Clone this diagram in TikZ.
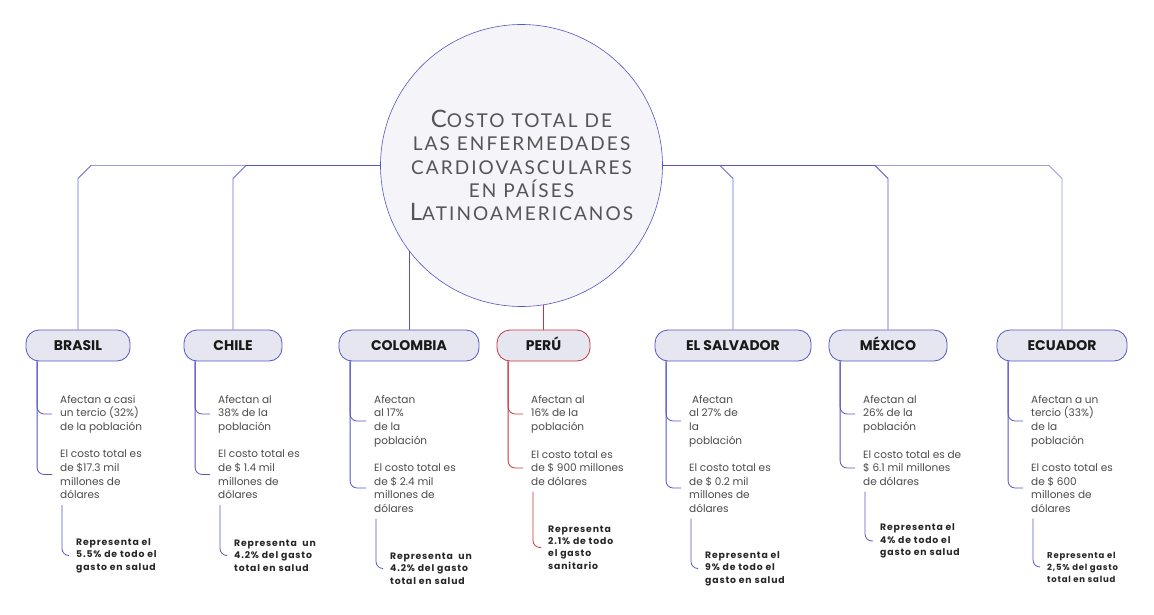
\documentclass[tikz,border=0pt]{standalone}
\usepackage{fontspec}
\setmainfont{Poppins}
\newfontfamily\titlefont[LetterSpace=11]{Lato}
\newfontfamily\notefont[LetterSpace=9]{Poppins}
\usetikzlibrary{calc}
\definecolor{bl}{HTML}{5656C6}
\definecolor{lbl}{HTML}{9A9EE0}
\definecolor{mbl}{HTML}{6A6CD0}
\definecolor{rd}{HTML}{C8373A}
\definecolor{boxfill}{HTML}{E6E6F0}
\definecolor{circfill}{HTML}{F4F4F9}
\definecolor{txt}{HTML}{4A4A4A}
\definecolor{ttl}{HTML}{555555}
\newcommand\tbig[1]{{\fontsize{24}{24}\selectfont #1}}
\begin{document}
\begin{tikzpicture}[x=1pt,y=-1pt,
 country/.style={draw=bl, fill=boxfill, rounded corners=13, minimum height=31, inner sep=0, line width=0.8, text height=10, text depth=0, font=\fontsize{14}{14}\selectfont\bfseries, text=black!90},
 body/.style={anchor=west, align=left, inner sep=0, font=\fontsize{10.5}{13.6}\selectfont, text=txt},
 note/.style={anchor=west, align=left, inner sep=0, font=\notefont\fontsize{9.3}{12.4}\selectfont\bfseries, text=black!85},
 link/.style={draw=mbl, line width=0.8},
 sub/.style={draw=bl, line width=0.8, rounded corners=7},
]
\useasboundingbox (0,0) rectangle (1154,615);
% central circle
\node[circle, draw=bl, fill=circfill, line width=0.6, minimum size=282, inner sep=0,
      align=center, text=ttl, font=\titlefont\fontsize{19}{23.4}\selectfont] (c) at (521.5,165.5)
  {\tbig{C}OSTO TOTAL DE\\LAS ENFERMEDADES\\CARDIOVASCULARES\\EN PAÍSES\\\tbig{L}ATINOAMERICANOS};

% country boxes
\node[country, minimum width=104] (br) at (78,345.5) {BRASIL};
\node[country, minimum width=98]  (ch) at (233,345.5) {CHILE};
\node[country, minimum width=140] (co) at (409,345.5) {COLOMBIA};
\node[country, minimum width=93, draw=rd] (pe) at (543.5,345.5) {PERÚ};
\node[country, minimum width=156] (es) at (733,345.5) {EL SALVADOR};
\node[country, minimum width=118] (mx) at (888,345.5) {MÉXICO};
\node[country, minimum width=130] (ec) at (1062,345.5) {ECUADOR};

% connectors from the circle
\draw[draw=bl, line width=0.8] (c.west) -- ($(ch.north |- c.west)+(13,0)$);
\draw[draw=lbl, line width=0.8] ($(ch.north |- c.west)+(13,0)$) -- ($(br.north |- c.west)+(13,0)$);
\draw[link] ($(br.north |- c.west)+(13,0)$) -- ($(br.north |- c.west)+(0,13)$) -- (br.north);
\draw[link] ($(ch.north |- c.west)+(13,0)$) -- ($(ch.north |- c.west)+(0,13)$) -- (ch.north);
\draw[draw=bl, line width=0.8] (c.east) -- ($(mx.north |- c.east)+(-13,0)$);
\draw[draw=lbl, line width=0.8] ($(mx.north |- c.east)+(-13,0)$) -- ($(ec.north |- c.east)+(-13,0)$);
\draw[link] ($(es.north |- c.east)+(-13,0)$) -- ($(es.north |- c.east)+(0,13)$) -- (es.north);
\draw[draw=bl, line width=0.8] ($(mx.north |- c.east)+(-13,0)$) -- ($(mx.north |- c.east)+(0,13)$) -- (mx.north);
\draw[draw=lbl, line width=0.8] ($(ec.north |- c.east)+(-13,0)$) -- ($(ec.north |- c.east)+(0,13)$) -- (ec.north);
\draw[draw=bl, line width=0.8] (co.north) -- (co.north |- c.217);
\draw[draw=rd, line width=0.8] (pe.north) -- (pe.north |- c.279);

% BRASIL
\node[body] (br1) at (60,414) {Afectan a casi\\un tercio (32\%)\\de la población};
\node[body] (br2) at (60,474.5) {El costo total es\\de \$17.3 mil\\millones de\\dólares};
\node[note] (br3) at (76,555.5) {Representa el\\5.5\% de todo el\\gasto en salud};
% CHILE
\node[body] (ch1) at (218,414) {Afectan al\\38\% de la\\población};
\node[body] (ch2) at (218,474.5) {El costo total es\\de \$ 1.4 mil\\millones de\\dólares};
\node[note] (ch3) at (234,555.5) {Representa\ \ un\\4.2\% del gasto\\total en salud};
% COLOMBIA
\node[body] (co1) at (374,421) {Afectan\\al 17\%\\de la\\población};
\node[body] (co2) at (374,488) {El costo total es\\de \$ 2.4 mil\\millones de\\dólares};
\node[note] (co3) at (390,568.5) {Representa\ \ un\\4.2\% del gasto\\total en salud};
% PERU
\node[body] (pe1) at (531,414) {Afectan al\\16\% de la\\población};
\node[body] (pe2) at (531,468) {El costo total es\\de \$ 900 millones\\de dólares};
\node[note] (pe3) at (548,547.5) {Representa\\2.1\% de todo\\el gasto\\sanitario};
% EL SALVADOR
\node[body] (es1) at (689,421) {\ Afectan\\al 27\% de\\la\\población};
\node[body] (es2) at (689,488) {El costo total es\\de \$ 0.2 mil\\millones de\\dólares};
\node[note] (es3) at (705,568.5) {Representa el\\9\% de todo el\\gasto en salud};
% MEXICO
\node[body] (mx1) at (863,414) {Afectan al\\26\% de la\\población};
\node[body] (mx2) at (863,468) {El costo total es de\\\$ 6.1 mil millones\\de dólares};
\node[note] (mx3) at (880,541) {Representa el\\4\% de todo el\\gasto en salud};
% ECUADOR
\node[body] (ec1) at (1031,421) {Afectan a un\\tercio (33\%)\\de la\\población};
\node[body] (ec2) at (1031,488) {El costo total es\\de \$ 600\\millones de\\dólares};
\node[note, font=\notefont\fontsize{8.5}{12}\selectfont\bfseries] (ec3) at (1047,567) {Representa el\\2,5\% del gasto\\total en salud};

% sub-branches
\foreach \b/\col in {br/bl,ch/bl,co/bl,pe/rd,es/bl,mx/bl,ec/bl}{
  \draw[sub, draw=\col] ([xshift=11.5]\b.south west) |- ([xshift=-8]\b1.west);
  \draw[sub, draw=\col] ([xshift=11.5]\b.south west) |- ([xshift=-8]\b2.west);
  \draw[sub, draw=\col] ($(\b2.south west)+(2,6)$) |- ([xshift=-7]\b3.west);
}
\end{tikzpicture}
\end{document}
